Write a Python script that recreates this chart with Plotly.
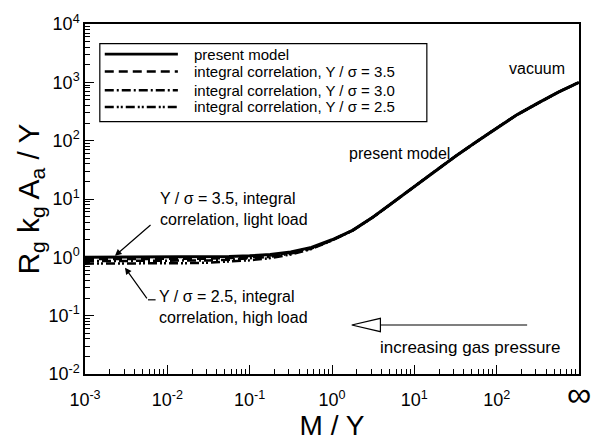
import numpy as np
import plotly.graph_objects as go

# M / Y values, quarter-decade steps (1e3 is drawn as the "infinity" end)
mY = [0.001, 0.00178, 0.00316, 0.00562, 0.01, 0.0178, 0.0316, 0.0562, 0.1, 0.178,
      0.316, 0.562, 1, 1.78, 3.16, 5.62, 10, 17.8, 31.6, 56.2, 100, 178, 316, 562, 1000]

# present model
present = [1.0, 1.0, 1.0, 1.002, 1.004, 1.008, 1.015, 1.03, 1.06, 1.12,
           1.24, 1.48, 2.0, 2.9, 4.9, 8.9, 16.5, 30, 54, 95, 165, 280, 440, 680, 1000]

# integral correlation curves for three Y / sigma ratios
corr_35 = [0.93, 0.93, 0.93, 0.932, 0.935, 0.94, 0.95, 0.97, 1.0, 1.07,
           1.20, 1.45, 1.98, 2.9, 4.9, 8.9, 16.5, 30, 54, 95, 165, 280, 440, 680, 1000]
corr_30 = [0.86, 0.86, 0.86, 0.862, 0.866, 0.873, 0.885, 0.91, 0.95, 1.02,
           1.16, 1.42, 1.96, 2.9, 4.9, 8.9, 16.5, 30, 54, 95, 165, 280, 440, 680, 1000]
corr_25 = [0.78, 0.78, 0.78, 0.783, 0.787, 0.795, 0.81, 0.84, 0.89, 0.97,
           1.12, 1.39, 1.94, 2.89, 4.9, 8.9, 16.5, 30, 54, 95, 165, 280, 440, 680, 1000]

x_tickvals = [1e-3, 1e-2, 1e-1, 1e0, 1e1, 1e2, 1e3]
x_ticktext = ["10<sup>-3</sup>", "10<sup>-2</sup>", "10<sup>-1</sup>", "10<sup>0</sup>",
              "10<sup>1</sup>", "10<sup>2</sup>", "<span style='font-size:34px'>∞</span>"]
y_tickvals = [1e-2, 1e-1, 1e0, 1e1, 1e2, 1e3, 1e4]
y_ticktext = ["10<sup>-2</sup>", "10<sup>-1</sup>", "10<sup>0</sup>", "10<sup>1</sup>",
              "10<sup>2</sup>", "10<sup>3</sup>", "10<sup>4</sup>"]

legend_names = ["present model",
                "integral correlation, Y / σ = 3.5",
                "integral correlation, Y / σ = 3.0",
                "integral correlation, Y / σ = 2.5"]
dash_styles = ["solid", "9px,5px", "9px,3px,2px,3px", "9px,3px,2px,2px,2px,3px"]
line_widths = [3, 2.5, 2.5, 2.5]
series = [present, corr_35, corr_30, corr_25]

FONT = "Arial, Liberation Sans, sans-serif"

fig = go.Figure()
for name, ys, dash, w in zip(legend_names, series, dash_styles, line_widths):
    fig.add_trace(go.Scatter(x=mY, y=ys, mode="lines", name=name, showlegend=False,
                             line=dict(color="black", width=w, dash=dash)))

axis_common = dict(type="log", showgrid=False, zeroline=False, showline=True,
                   linecolor="black", linewidth=1.5, mirror=True,
                   ticks="inside", ticklen=9, tickwidth=1, tickcolor="black",
                   tickfont=dict(family=FONT, size=18, color="black"),
                   minor=dict(ticks="inside", ticklen=5, tickwidth=1, tickcolor="black",
                              dtick="D1", showgrid=False))

fig.update_xaxes(**axis_common, range=[-3, 3], tickmode="array",
                 tickvals=x_tickvals, ticktext=x_ticktext, ticklabelstandoff=9,
                 title=dict(text="M / Y", font=dict(family=FONT, size=28, color="black"),
                            standoff=0))
fig.update_yaxes(**axis_common, range=[-2, 4], tickmode="array",
                 tickvals=y_tickvals, ticktext=y_ticktext,
                 title=dict(text="R<sub>g</sub> k<sub>g</sub> A<sub>a</sub> / Y",
                            font=dict(family=FONT, size=30, color="black"), standoff=0))

shapes = []
annotations = []

# legend box drawn by hand (long line samples)
shapes.append(dict(type="rect", xref="paper", yref="paper", x0=0.030, x1=0.692,
                   y0=0.721, y1=0.944, line=dict(color="black", width=1.2),
                   fillcolor="white", layer="above"))
row_y = [0.914, 0.864, 0.811, 0.763]
for yy, name, dash, w in zip(row_y, legend_names, dash_styles, line_widths):
    shapes.append(dict(type="line", xref="paper", yref="paper", x0=0.040, x1=0.188,
                       y0=yy, y1=yy, line=dict(color="black", width=w if w < 3 else 2.6,
                                                dash=dash), layer="above"))
    annotations.append(dict(xref="paper", yref="paper", x=0.216, y=yy, text=name,
                            showarrow=False, xanchor="left", yanchor="middle",
                            font=dict(family=FONT, size=15, color="black")))

lg = np.log10
# curve labels
annotations.append(dict(x=lg(309), y=lg(1714), text="vacuum", showarrow=False,
                        font=dict(family=FONT, size=16, color="black")))
annotations.append(dict(x=lg(6.6), y=lg(60), text="present model", showarrow=False,
                        font=dict(family=FONT, size=16, color="black")))

# Y/sigma = 3.5 callout
annotations.append(dict(x=lg(0.0077), y=lg(6.7), xanchor="left", yanchor="middle",
                        text="Y / σ = 3.5, integral<br>correlation, light load",
                        align="left", showarrow=False,
                        font=dict(family=FONT, size=16, color="black")))
annotations.append(dict(x=lg(0.00231), y=lg(1.06), ax=lg(0.00652), ay=lg(3.76),
                        xref="x", yref="y", axref="x", ayref="y", text="",
                        showarrow=True, arrowhead=2, arrowsize=1.1, arrowwidth=1.2,
                        arrowcolor="black"))

# Y/sigma = 2.5 callout
annotations.append(dict(x=lg(0.0075), y=lg(0.143), xanchor="left", yanchor="middle",
                        text="Y / σ = 2.5, integral<br>correlation, high load",
                        align="left", showarrow=False,
                        font=dict(family=FONT, size=16, color="black")))
annotations.append(dict(x=lg(0.00306), y=lg(0.665), ax=lg(0.00582), ay=lg(0.187),
                        xref="x", yref="y", axref="x", ayref="y", text="",
                        showarrow=True, arrowhead=2, arrowsize=1.1, arrowwidth=1.2,
                        arrowcolor="black"))
shapes.append(dict(type="line", xref="x", yref="y", x0=0.00582, x1=0.0072,
                   y0=0.187, y1=0.187, line=dict(color="black", width=1.2)))

# "increasing gas pressure" arrow with hollow head
shapes.append(dict(type="line", xref="paper", yref="paper", x0=0.598, x1=0.895,
                   y0=0.140, y1=0.140, line=dict(color="black", width=1.2)))
shapes.append(dict(type="path", xref="paper", yref="paper",
                   path="M 0.540 0.140 L 0.598 0.159 L 0.598 0.121 Z",
                   fillcolor="white", line=dict(color="black", width=1.2)))
annotations.append(dict(xref="paper", yref="paper", x=0.779, y=0.075,
                        xanchor="center", yanchor="middle",
                        text="increasing gas pressure", showarrow=False,
                        font=dict(family=FONT, size=17, color="black")))

fig.update_layout(width=603, height=446, margin=dict(l=85, r=24, t=15, b=72),
                  plot_bgcolor="white", paper_bgcolor="white",
                  shapes=shapes, annotations=annotations, showlegend=False)

fig.write_html("out.html")
